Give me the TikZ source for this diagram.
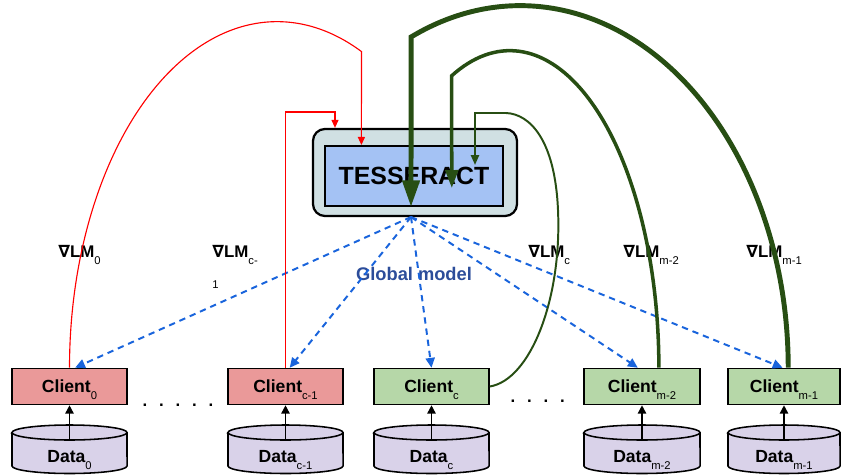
\documentclass[tikz,border=0pt]{standalone}
\usepackage{fontspec}
\setmainfont{Liberation Sans}
\newfontfamily\symfont{DejaVu Sans}
\usetikzlibrary{arrows.meta}
\definecolor{clientred}{RGB}{234,153,153}
\definecolor{clientgreen}{RGB}{182,215,168}
\definecolor{disklav}{RGB}{217,210,233}
\definecolor{outerfill}{RGB}{208,224,227}
\definecolor{innerfill}{RGB}{164,194,244}
\definecolor{gdark}{RGB}{39,78,19}
\definecolor{dashblue}{RGB}{25,100,220}
\definecolor{gmtext}{RGB}{44,77,154}
\newcommand{\lowsub}[1]{\smash{\raisebox{-5pt}{\fontsize{8}{8}\selectfont\mdseries #1}}}
\newcommand{\nab}{{\symfont\bfseries ∇}}

\begin{document}
\begin{tikzpicture}[x=0.025cm, y=-0.025cm,
    client/.style = {draw, line width=1.1pt, minimum height=0.9cm, inner sep=0pt, font=\fontsize{12.5}{14}\selectfont\bfseries},
    disk/.style = {draw, line width=1.1pt, fill=disklav},
    lbl/.style = {anchor=base west, inner sep=0pt, font=\fontsize{12}{14}\selectfont\bfseries},
    redline/.style = {red, line width=0.8pt, -{Triangle[length=5.7pt,width=5pt]}},
    gmarrow/.style = {dashblue, line width=1.4pt, dash pattern=on 4.5pt off 3.5pt, -{Triangle[length=7pt,width=6.5pt]}}
  ]
  \useasboundingbox (0,0) rectangle (841,475);
  \node [draw, line width=1.6pt, fill=outerfill, rounded corners=8.5pt, minimum width=5.1cm, minimum height=2.175cm] (outer) at (415,172.5) {};
  \node [draw, line width=1.4pt, fill=innerfill, minimum width=4.45cm, minimum height=1.5cm, font=\fontsize{17.7}{20}\selectfont\bfseries] (tess) at (414,176) {TESSERACT};
  \coordinate (hub) at (411,217);

  \node [lbl] (g0) at (58,257) {\nab LM\lowsub{0}};
  \node [lbl] (g1) at (212,257) {\nab LM\lowsub{c-}};
  \node [anchor=base west, inner sep=0pt, font=\fontsize{8}{8}\selectfont] (g1b) at (212,288) {1};
  \node [lbl] (gc) at (528,257) {\nab LM\lowsub{c}};
  \node [lbl] (gm2) at (623,257) {\nab LM\lowsub{m-2}};
  \node [lbl] (gm1) at (746,257) {\nab LM\lowsub{m-1}};
  \node [anchor=base, text=gmtext, font=\fontsize{13}{15}\selectfont\bfseries] (gm) at (414,280) {Global model};

  % clients with their data
  \foreach \n/\cx/\w/\col/\s in {c0/69.5/2.875/clientred/0, c1/285.5/2.875/clientred/c-1, cc/431.5/2.875/clientgreen/c, cm2/642/2.9/clientgreen/m-2, cm1/784/2.8/clientgreen/m-1}{
    \node [client, fill=\col, minimum width=\w cm] (\n) at (\cx,386.5) {Client\lowsub{\s}};
    \pgfmathsetmacro{\hw}{\w*20}
    \pgfmathsetmacro{\rx}{\w/2}
    \draw [disk] (\cx-\hw,432.5) -- (\cx-\hw,466) arc[start angle=180, end angle=360, x radius=\rx cm, y radius=0.1875cm]
      -- (\cx+\hw,432.5) arc[start angle=0, end angle=180, x radius=\rx cm, y radius=0.1875cm] -- cycle;
    \draw [line width=1.1pt] (\cx-\hw,432.5) arc[start angle=180, end angle=360, x radius=\rx cm, y radius=0.1875cm];
    \node [font=\fontsize{12.5}{14}\selectfont\bfseries] (d\n) at (\cx,456.5) {Data\lowsub{\s}};
    \coordinate (t\n) at (\cx,440);
    \draw [line width=1.1pt, -{Triangle[length=6pt,width=6pt]}] (t\n) -- (\n);
  }
  \foreach \i in {0,...,4}
    \node [font=\fontsize{12}{14}\selectfont\bfseries] (dl\i) at ({145+16.5*\i},405) {.};
  \foreach \i in {0,...,3}
    \node [font=\fontsize{12}{14}\selectfont\bfseries] (dr\i) at ({513+16.5*\i},401) {.};

  % global model to clients
  \foreach \n/\dx in {c0/4pt, c1/3pt, cc/0pt, cm2/-3pt, cm1/-1pt}
    \draw [gmarrow] (hub) -- ([xshift=\dx]\n.north);

  % local updates
  \draw [redline] (c0.north) arc[start angle=180, end angle=66, x radius=5.1875cm, y radius=8.65cm] -- (361.4,0 |- tess.north);
  \draw [redline] (c1.north) |- (335,112) -- (335,0 |- outer.north);
  \coordinate (gtip3) at (475,165);
  \coordinate (gtip2) at (451.8,188);
  \draw [gdark, line width=1.4pt, -{Triangle[length=7pt,width=5.7pt]}] (cc.east) .. controls (530,380) and (562,300) .. (558,210)
    .. controls (555,140) and (530,114) .. (506,113) -- (475,113) -- (gtip3);
  \draw [gdark, line width=2.5pt, -{Triangle[length=12.8pt,width=9pt]}] ([xshift=12pt]cm2.north) arc[start angle=0, end angle=113, x radius=3.725cm, y radius=7.925cm] -- (gtip2);
  \draw [gdark, line width=3.5pt, -{Triangle[length=19pt,width=12pt]}] ([xshift=3pt]cm1.north) arc[start angle=0, end angle=114, x radius=6.7cm, y radius=9.05cm] -- (411,0 |- tess.south);
\end{tikzpicture}
\end{document}
